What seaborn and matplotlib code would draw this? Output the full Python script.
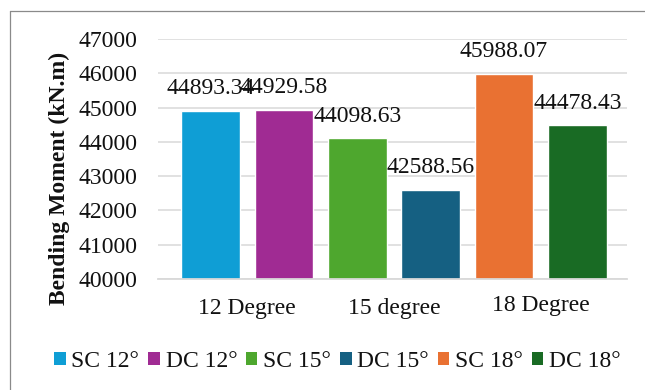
import matplotlib
matplotlib.use("Agg")
import matplotlib.pyplot as plt
import matplotlib.patches as mpatches
import matplotlib.transforms as mtransforms
from matplotlib.lines import Line2D
import seaborn as sns
import pandas as pd

# Bending moment for single (SC) and double (DC) configurations at three angles
series = ["SC 12°", "DC 12°", "SC 15°", "DC 15°", "SC 18°", "DC 18°"]
values = [44893.34, 44929.58, 44098.63, 42588.56, 45988.07, 44478.43]
categories = ["12 Degree", "15 degree", "18 Degree"]
colors = ["#0F9ED5", "#A02B93", "#4EA72E", "#156082", "#E97132", "#196B24"]
yticks = [40000, 41000, 42000, 43000, 44000, 45000, 46000, 47000]

sns.set_theme(style="white")
plt.rcParams["font.family"] = ["Liberation Serif", "DejaVu Serif"]
plt.rcParams["font.size"] = 17

df = pd.DataFrame({"series": series, "value": values})

fig = plt.figure(figsize=(6.45, 3.9), dpi=100)
ax = fig.add_axes([0.245, 0.2846, 0.727, 0.6154])

sns.barplot(data=df, x="series", y="value", hue="series", order=series,
            hue_order=series, palette=colors, width=0.8, saturation=1,
            legend=False, ax=ax)

for cont, v in zip(ax.containers, values):
    ax.bar_label(cont, labels=[f"{v:.2f}"], padding=8.5, fontsize=17,
                 color="#111111")

ax.set_ylim(yticks[0], yticks[-1])
ax.set_yticks(yticks)
ax.set_yticklabels([str(t) for t in yticks])
ax.set_xlim(-0.716, 5.675)
ax.set_xticks([0.5, 2.5, 4.5])
ax.set_xticklabels(categories)
ax.tick_params(axis="both", length=0, labelsize=17, colors="#111111")
ax.tick_params(axis="x", pad=13.5)
ax.tick_params(axis="y", pad=15)

# the third category label sits a little higher
lbl = ax.get_xticklabels()[2]
lbl.set_transform(lbl.get_transform() +
                  mtransforms.ScaledTranslation(0, 3 / 100, fig.dpi_scale_trans))

ax.grid(axis="y", color="#d9d9d9", linewidth=1.1)
ax.grid(axis="x", visible=False)
ax.set_axisbelow(True)
for s in ["left", "right", "top"]:
    ax.spines[s].set_visible(False)
ax.spines["bottom"].set_color("#d9d9d9")
ax.spines["bottom"].set_linewidth(1.3)

ax.set_xlabel("")
ax.set_ylabel("Bending Moment (kN.m)", fontsize=17, fontweight="bold",
              color="#111111")
ax.yaxis.set_label_coords(-0.188, 0.418)

handles = [mpatches.Patch(facecolor=c, edgecolor="none") for c in colors]
fig.legend(handles, series, loc="center", bbox_to_anchor=(0.523, 0.074),
           ncol=6, frameon=False, fontsize=17, handlelength=0.5,
           handleheight=0.5, handletextpad=0.25, columnspacing=0.36,
           borderpad=0, labelcolor="#111111")

# chart frame
fig.add_artist(Line2D([9.5 / 645, 9.5 / 645], [0, 1 - 10.5 / 390],
                      transform=fig.transFigure, color="#8a8a8a", linewidth=0.9))
fig.add_artist(Line2D([9.5 / 645, 1.0], [1 - 10.5 / 390, 1 - 10.5 / 390],
                      transform=fig.transFigure, color="#8a8a8a", linewidth=0.9))

fig.savefig("out.png", dpi=100, facecolor="white")
